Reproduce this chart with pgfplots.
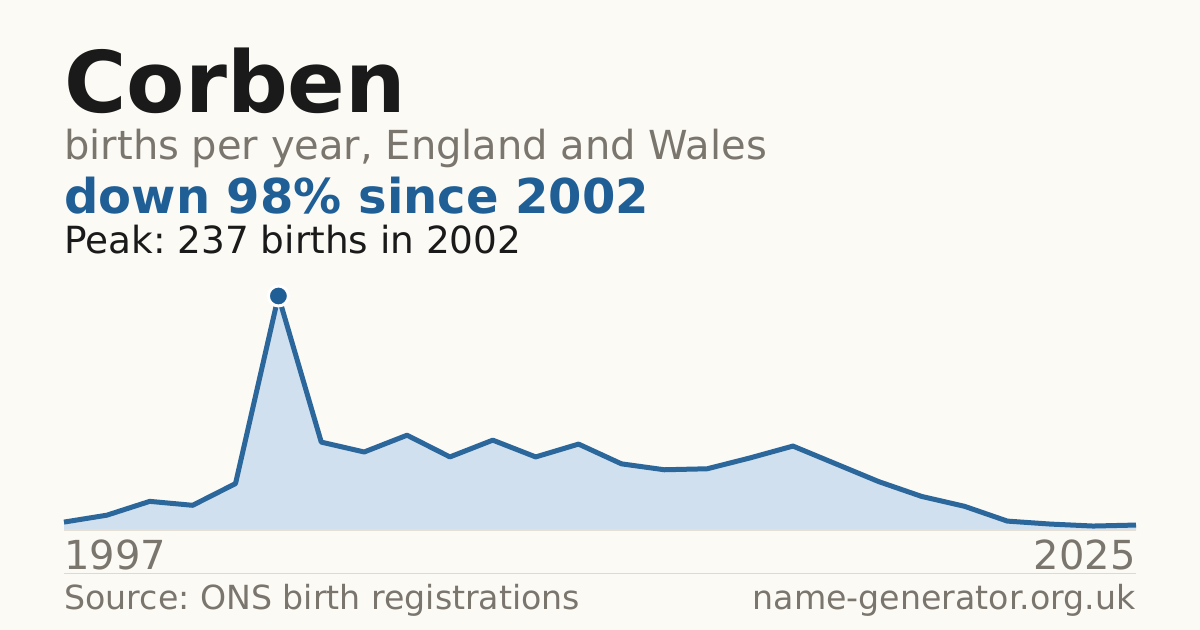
\documentclass[border=0pt]{standalone}
\usepackage{pgfplots}
\pgfplotsset{compat=1.18}
\usepackage{fontspec}
\setmainfont{DejaVu Sans}
\frenchspacing
\definecolor{bg}{HTML}{FBFAF5}
\definecolor{titlec}{HTML}{1A1A1A}
\definecolor{grayc}{HTML}{7A756D}
\definecolor{bluec}{HTML}{1F5F96}
\definecolor{linec}{HTML}{2C679C}
\definecolor{fillc}{HTML}{D0E0EF}
\definecolor{basec}{HTML}{E6DFD6}
\definecolor{sepc}{HTML}{DEDAD3}
\begin{document}
\begin{tikzpicture}[x=1pt,y=1pt]
\fill[bg] (0,0) rectangle (600,315);
\node[anchor=base west,inner sep=0,text=titlec,font=\fontsize{42.5}{48}\selectfont\bfseries] at (32,258.5) {Corben};
\node[anchor=base west,inner sep=0,text=grayc,font=\fontsize{20}{24}\selectfont] at (32,235.25) {births per year, England and Wales};
\node[anchor=base west,inner sep=0,text=bluec,font=\fontsize{24}{28}\selectfont\bfseries] at (32,208) {down 98\% since 2002};
\node[anchor=base west,inner sep=0,text=titlec,font=\fontsize{18.7}{22}\selectfont] at (32,188) {Peak: 237 births in 2002};
\begin{axis}[
  at={(32pt,50pt)}, anchor=origin,
  width=536pt, height=117pt, scale only axis,
  xmin=0, xmax=25, ymin=0, ymax=237,
  axis lines=none, ticks=none, clip=false,
]
\addplot[fill=fillc, draw=none] coordinates {
(0,8) (1,15) (2,29) (3,25) (4,47) (5,237) (6,89) (7,79) (8,96) (9,74)
(10,91) (11,74) (12,87) (13,67) (14,61) (15,62) (16,73) (17,85) (18,67)
(19,49) (20,34) (21,24) (22,9) (23,6) (24,4) (25,5)} \closedcycle;
\draw[basec, line width=0.75pt] (axis cs:0,0) -- (axis cs:25,0);
\addplot[linec, line width=2.5pt, line join=round, line cap=butt] coordinates {
(0,8) (1,15) (2,29) (3,25) (4,47) (5,237) (6,89) (7,79) (8,96) (9,74)
(10,91) (11,74) (12,87) (13,67) (14,61) (15,62) (16,73) (17,85) (18,67)
(19,49) (20,34) (21,24) (22,9) (23,6) (24,4) (25,5)};
\addplot[only marks, mark=*, mark size=5pt, mark options={fill=bluec, draw=white, line width=1.5pt}] coordinates {(5,237)};
\end{axis}
\node[anchor=base west,inner sep=0,text=grayc,font=\fontsize{20}{24}\selectfont] at (32,30) {1997};
\node[anchor=base east,inner sep=0,text=grayc,font=\fontsize{20}{24}\selectfont] at (568,30) {2025};
\draw[sepc, line width=0.5pt] (32,28) -- (568,28);
\node[anchor=base west,inner sep=0,text=grayc,font=\fontsize{16.6}{20}\selectfont] at (32,10) {Source: ONS birth registrations};
\node[anchor=base east,inner sep=0,text=grayc,font=\fontsize{16.6}{20}\selectfont] at (568,10) {name-generator.org.uk};
\end{tikzpicture}
\end{document}
